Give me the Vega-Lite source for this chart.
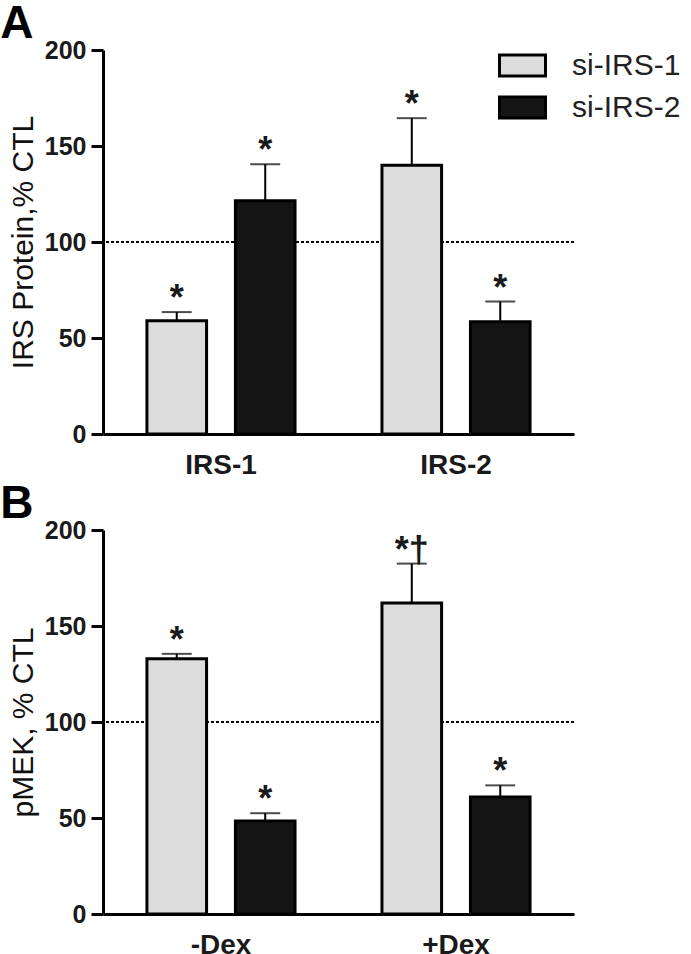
{
  "$schema": "https://vega.github.io/schema/vega-lite/v6.json",
  "background": "white",
  "padding": {"left": 0, "top": 1, "right": 0, "bottom": 0},
  "spacing": 2,
  "config": {
    "view": {"stroke": null},
    "font": "Liberation Sans",
    "title": {"font": "Liberation Sans"},
    "axis": {"labelFont": "Liberation Sans", "titleFont": "Liberation Sans"}
  },
  "datasets": {
    "a": [
      {"group": "IRS-1", "series": "si-IRS-1", "value": 59, "err": 63.5, "sig": "*"},
      {"group": "IRS-1", "series": "si-IRS-2", "value": 121.5, "err": 140.5, "sig": "*"},
      {"group": "IRS-2", "series": "si-IRS-1", "value": 140, "err": 164.5, "sig": "*"},
      {"group": "IRS-2", "series": "si-IRS-2", "value": 58.5, "err": 69, "sig": "*"}
    ],
    "b": [
      {"group": "-Dex", "series": "si-IRS-1", "value": 133, "err": 135.5, "sig": "*"},
      {"group": "-Dex", "series": "si-IRS-2", "value": 48.5, "err": 52.5, "sig": "*"},
      {"group": "+Dex", "series": "si-IRS-1", "value": 162, "err": 182.5, "sig": "*†"},
      {"group": "+Dex", "series": "si-IRS-2", "value": 61, "err": 67, "sig": "*"}
    ]
  },
  "vconcat": [
    {
      "width": 471,
      "height": 384,
      "title": {"text": "A", "anchor": "start", "frame": "bounds", "fontSize": 46, "fontWeight": "bold", "color": "black", "dx": -8, "offset": -10},
      "data": {"name": "a"},
      "encoding": {
        "y": {"field": "value", "type": "quantitative", "scale": {"domain": [0, 200]},
          "axis": {"values": [0, 50, 100, 150, 200], "title": "IRS Protein,% CTL", "grid": false,
            "domainWidth": 3, "domainColor": "black", "tickWidth": 3, "tickSize": 12, "tickColor": "black",
            "labelFontSize": 25, "labelFontWeight": "bold", "labelColor": "#1a1a1a", "labelPadding": 5,
            "titleFontSize": 30, "titleFontWeight": "normal", "titleColor": "#111111", "titlePadding": 6}}
      },
      "layer": [
        {
          "mark": {"type": "rule", "strokeDash": [3, 2], "strokeWidth": 1.5, "color": "black"},
          "encoding": {"y": {"datum": 100}}
        },
        {
          "mark": {"type": "bar", "stroke": "black", "strokeWidth": 3},
          "encoding": {
            "x": {"field": "group", "type": "nominal", "sort": ["IRS-1", "IRS-2"], "scale": {"paddingInner": 0.15, "paddingOuter": 0.077},
              "axis": {"title": null, "ticks": false, "domainWidth": 3, "domainColor": "black", "labelAngle": 0,
                "labelFontSize": 28, "labelFontWeight": "bold", "labelColor": "#1a1a1a", "labelPadding": 17}},
            "xOffset": {"field": "series", "sort": ["si-IRS-1", "si-IRS-2"], "scale": {"paddingInner": 0.326, "paddingOuter": 0.292}},
            "fill": {"field": "series", "type": "nominal", "scale": {"domain": ["si-IRS-1", "si-IRS-2"], "range": ["#dcdcdc", "#141414"]},
              "legend": {"title": null, "orient": "none", "legendX": 395, "legendY": -9, "padding": 0,
                "symbolType": "M-1,-0.46H1V0.46H-1Z", "symbolSize": 2116, "symbolStrokeColor": "black", "symbolStrokeWidth": 3,
                "labelFontSize": 30, "labelFont": "Liberation Sans", "labelColor": "#222222", "labelOffset": 25, "rowPadding": 0}}
          }
        },
        {
          "mark": {"type": "rule", "strokeWidth": 2, "color": "black"},
          "encoding": {
            "x": {"field": "group", "type": "nominal", "sort": ["IRS-1", "IRS-2"]},
            "xOffset": {"field": "series", "sort": ["si-IRS-1", "si-IRS-2"]},
            "y2": {"field": "err"}
          }
        },
        {
          "mark": {"type": "tick", "size": 30, "thickness": 2, "color": "black"},
          "encoding": {
            "x": {"field": "group", "type": "nominal", "sort": ["IRS-1", "IRS-2"]},
            "xOffset": {"field": "series", "sort": ["si-IRS-1", "si-IRS-2"]},
            "y": {"field": "err", "type": "quantitative"}
          }
        },
        {
          "mark": {"type": "text", "fontSize": 36, "fontWeight": "bold", "baseline": "alphabetic", "dy": -2, "color": "#1a1a1a"},
          "encoding": {
            "x": {"field": "group", "type": "nominal", "sort": ["IRS-1", "IRS-2"]},
            "xOffset": {"field": "series", "sort": ["si-IRS-1", "si-IRS-2"]},
            "y": {"field": "err", "type": "quantitative"},
            "text": {"field": "sig"}
          }
        }
      ]
    },
    {
      "width": 471,
      "height": 384,
      "title": {"text": "B", "anchor": "start", "frame": "bounds", "fontSize": 46, "fontWeight": "bold", "color": "black", "dx": -8, "offset": -10},
      "data": {"name": "b"},
      "encoding": {
        "y": {"field": "value", "type": "quantitative", "scale": {"domain": [0, 200]},
          "axis": {"values": [0, 50, 100, 150, 200], "title": "pMEK, % CTL", "grid": false,
            "domainWidth": 3, "domainColor": "black", "tickWidth": 3, "tickSize": 12, "tickColor": "black",
            "labelFontSize": 25, "labelFontWeight": "bold", "labelColor": "#1a1a1a", "labelPadding": 5,
            "titleFontSize": 30, "titleFontWeight": "normal", "titleColor": "#111111", "titlePadding": 6}}
      },
      "layer": [
        {
          "mark": {"type": "rule", "strokeDash": [3, 2], "strokeWidth": 1.5, "color": "black"},
          "encoding": {"y": {"datum": 100}}
        },
        {
          "mark": {"type": "bar", "stroke": "black", "strokeWidth": 3},
          "encoding": {
            "x": {"field": "group", "type": "nominal", "sort": ["-Dex", "+Dex"], "scale": {"paddingInner": 0.15, "paddingOuter": 0.077},
              "axis": {"title": null, "ticks": false, "domainWidth": 3, "domainColor": "black", "labelAngle": 0,
                "labelFontSize": 28, "labelFontWeight": "bold", "labelColor": "#1a1a1a", "labelPadding": 17}},
            "xOffset": {"field": "series", "sort": ["si-IRS-1", "si-IRS-2"], "scale": {"paddingInner": 0.326, "paddingOuter": 0.292}},
            "fill": {"field": "series", "type": "nominal", "scale": {"domain": ["si-IRS-1", "si-IRS-2"], "range": ["#dcdcdc", "#141414"]},
              "legend": {"title": null, "orient": "none", "legendX": 395, "legendY": -9, "padding": 0,
                "symbolType": "M-1,-0.46H1V0.46H-1Z", "symbolSize": 2116, "symbolStrokeColor": "black", "symbolStrokeWidth": 3,
                "labelFontSize": 30, "labelFont": "Liberation Sans", "labelColor": "#222222", "labelOffset": 25, "rowPadding": 0}}
          }
        },
        {
          "mark": {"type": "rule", "strokeWidth": 2, "color": "black"},
          "encoding": {
            "x": {"field": "group", "type": "nominal", "sort": ["-Dex", "+Dex"]},
            "xOffset": {"field": "series", "sort": ["si-IRS-1", "si-IRS-2"]},
            "y2": {"field": "err"}
          }
        },
        {
          "mark": {"type": "tick", "size": 30, "thickness": 2, "color": "black"},
          "encoding": {
            "x": {"field": "group", "type": "nominal", "sort": ["-Dex", "+Dex"]},
            "xOffset": {"field": "series", "sort": ["si-IRS-1", "si-IRS-2"]},
            "y": {"field": "err", "type": "quantitative"}
          }
        },
        {
          "mark": {"type": "text", "fontSize": 36, "fontWeight": "bold", "baseline": "alphabetic", "dy": -2, "color": "#1a1a1a"},
          "encoding": {
            "x": {"field": "group", "type": "nominal", "sort": ["-Dex", "+Dex"]},
            "xOffset": {"field": "series", "sort": ["si-IRS-1", "si-IRS-2"]},
            "y": {"field": "err", "type": "quantitative"},
            "text": {"field": "sig"}
          }
        }
      ]
    }
  ]
}
